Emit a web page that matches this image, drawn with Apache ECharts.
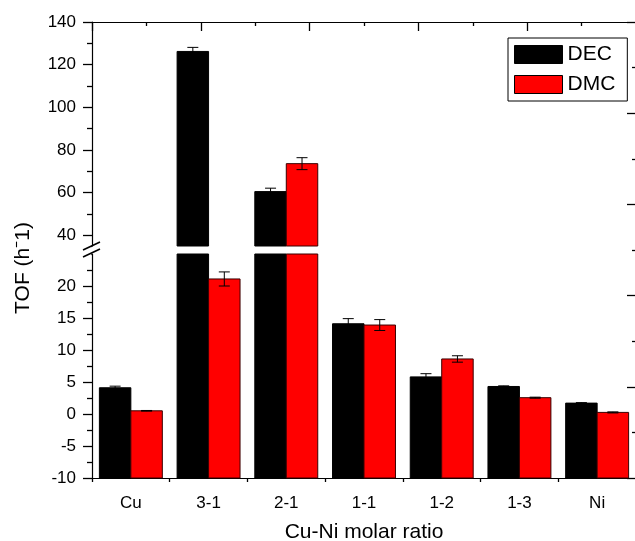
<!DOCTYPE html>
<html>
<head>
<meta charset="utf-8">
<script src="https://cdn.jsdelivr.net/npm/echarts@6.0.0/dist/echarts.min.js"></script>
<style>
  html, body { margin: 0; padding: 0; background: #fff; }
  #chart { width: 635px; height: 541px; }
</style>
</head>
<body>
<div id="chart"></div>
<script>
// Cu-Ni catalysts, TOF per product
const categories = ['Cu', '3-1', '2-1', '1-1', '1-2', '1-3', 'Ni'];
const decValues = [4.1, 126.2, 60.5, 14.1, 5.8, 4.3, 1.7];
const decErrors = [0.25, 1.9, 1.6, 0.8, 0.5, 0.1, 0.08];
const dmcValues = [0.5, 21.1, 73.6, 13.9, 8.6, 2.55, 0.25];
const dmcErrors = [0.05, 1.1, 2.8, 0.85, 0.5, 0.08, 0.08];

// broken y axis: lower segment -10..25, upper segment 35..140
const lowerRange = [-10, 25];
const upperRange = [35, 140];

const FONT = '"Liberation Sans", Arial, sans-serif';

const chart = echarts.init(document.getElementById('chart'));

const makeRender = (side, lo, hi, fill) => (params, api) => {
  const cat = api.value(0);
  const val = api.value(1);
  const err = api.value(2);
  if (val <= lo) return null;
  const band = api.size([1, 0])[0];
  const w = band * 0.405;
  const cx = api.coord([cat, lo])[0];
  const x0 = side < 0 ? cx - w : cx;
  const top = api.coord([cat, Math.min(val, hi)])[1];
  const base = api.coord([cat, lo])[1];
  const children = [{
    type: 'rect',
    shape: { x: x0, y: top, width: w, height: base - top },
    style: { fill: fill, stroke: side < 0 ? '#000' : '#3a0000', lineWidth: 1 }
  }];
  if (val <= hi) {
    const mx = x0 + w / 2;
    const yHi = api.coord([cat, val + err])[1];
    const yLo = api.coord([cat, val - err])[1];
    const lineStyle = { stroke: '#000', lineWidth: 1 };
    children.push(
      { type: 'line', shape: { x1: mx, y1: yHi, x2: mx, y2: yLo }, style: lineStyle },
      { type: 'line', shape: { x1: mx - 5.5, y1: yHi, x2: mx + 5.5, y2: yHi }, style: lineStyle },
      { type: 'line', shape: { x1: mx - 5.5, y1: yLo, x2: mx + 5.5, y2: yLo }, style: lineStyle }
    );
  }
  return { type: 'group', children: children };
};

const toData = (vals, errs) => vals.map((v, i) => [i, v, errs[i]]);

const axisLineStyle = { color: '#000', width: 1.2 };
const tickStyle = { color: '#000', width: 1.3 };
const labelStyle = { color: '#000', fontSize: 17, fontFamily: FONT };

const option = {
  animation: false,
  backgroundColor: '#fff',
  grid: [
    { left: 92, top: 22, width: 544, height: 224, outerBoundsMode: 'none' },
    { left: 92, top: 254, width: 544, height: 224, outerBoundsMode: 'none' },
    { left: 92, top: 22, width: 544, height: 456, outerBoundsMode: 'none' }
  ],
  legend: {
    orient: 'vertical',
    left: 508,
    top: 38,
    padding: [6, 12, 6, 6],
    itemGap: 9,
    itemWidth: 48,
    itemHeight: 18,
    icon: 'rect',
    borderColor: '#000',
    borderWidth: 1,
    itemStyle: { borderColor: '#000', borderWidth: 1 },
    textStyle: { color: '#000', fontSize: 21, fontFamily: FONT },
    data: ['DEC', 'DMC']
  },
  xAxis: [
    { type: 'category', gridIndex: 0, data: categories, show: false },
    {
      type: 'category', gridIndex: 1, data: categories, position: 'bottom',
      axisLine: { onZero: false, lineStyle: axisLineStyle },
      axisTick: { alignWithLabel: true, length: 8, lineStyle: tickStyle },
      axisLabel: Object.assign({ margin: 17 }, labelStyle),
      name: 'Cu-Ni molar ratio',
      nameLocation: 'middle',
      nameGap: 44,
      nameTextStyle: { color: '#000', fontSize: 21, fontFamily: FONT }
    },
    {
      type: 'value', gridIndex: 2, position: 'bottom', min: 0, max: 7, interval: 1,
      axisLine: { show: false, onZero: false },
      axisTick: { length: 4, lineStyle: tickStyle },
      axisLabel: { show: false },
      splitLine: { show: false }
    },
    {
      type: 'value', gridIndex: 2, position: 'top', min: 0, max: 10, interval: 2,
      axisLine: { onZero: false, lineStyle: axisLineStyle },
      axisTick: { inside: true, length: 9, lineStyle: tickStyle },
      minorTick: { show: true, splitNumber: 2, length: 4, lineStyle: tickStyle },
      axisLabel: { show: false },
      splitLine: { show: false }
    }
  ],
  yAxis: [
    {
      type: 'value', gridIndex: 0, position: 'left',
      min: upperRange[0], max: upperRange[1], splitNumber: 5,
      axisLine: { show: true, onZero: false, lineStyle: axisLineStyle },
      axisTick: { show: true, length: 9, lineStyle: tickStyle },
      minorTick: { show: true, splitNumber: 2, length: 5, lineStyle: tickStyle },
      axisLabel: Object.assign({ margin: 16, showMinLabel: false }, labelStyle),
      splitLine: { show: false }
    },
    {
      type: 'value', gridIndex: 1, position: 'left',
      min: lowerRange[0], max: lowerRange[1], interval: 5,
      axisLine: { show: true, onZero: false, lineStyle: axisLineStyle },
      axisTick: { show: true, length: 9, lineStyle: tickStyle },
      minorTick: { show: true, splitNumber: 2, length: 5, lineStyle: tickStyle },
      axisLabel: Object.assign({ margin: 16, showMaxLabel: false }, labelStyle),
      splitLine: { show: false }
    },
    {
      type: 'value', gridIndex: 2, position: 'right', min: 0, max: 10, interval: 2,
      axisLine: { show: false, onZero: false },
      axisTick: { show: true, inside: true, length: 9, lineStyle: tickStyle },
      minorTick: { show: true, splitNumber: 2, length: 4, lineStyle: tickStyle },
      axisLabel: { show: false },
      splitLine: { show: false }
    }
  ],
  series: [
    {
      name: 'DEC', type: 'custom', xAxisIndex: 0, yAxisIndex: 0,
      itemStyle: { color: '#000' },
      renderItem: makeRender(-1, upperRange[0], upperRange[1], '#000'),
      data: toData(decValues, decErrors)
    },
    {
      name: 'DMC', type: 'custom', xAxisIndex: 0, yAxisIndex: 0,
      itemStyle: { color: '#ff0000' },
      renderItem: makeRender(1, upperRange[0], upperRange[1], '#ff0000'),
      data: toData(dmcValues, dmcErrors)
    },
    {
      name: 'DEC', type: 'custom', xAxisIndex: 1, yAxisIndex: 1,
      itemStyle: { color: '#000' },
      renderItem: makeRender(-1, lowerRange[0], lowerRange[1], '#000'),
      data: toData(decValues, decErrors)
    },
    {
      name: 'DMC', type: 'custom', xAxisIndex: 1, yAxisIndex: 1,
      itemStyle: { color: '#ff0000' },
      renderItem: makeRender(1, lowerRange[0], lowerRange[1], '#ff0000'),
      data: toData(dmcValues, dmcErrors)
    }
  ],
  graphic: [
    {
      type: 'text', x: 23, y: 268, rotation: Math.PI / 2, z: 100,
      style: {
        text: 'TOF (h\u207B1)', fill: '#000',
        font: '21px ' + FONT, align: 'center', verticalAlign: 'middle'
      }
    },
    // hide the segment end ticks at the break, then draw the break marks
    { type: 'rect', z: 100, shape: { x: 78, y: 243, width: 13.3, height: 14 }, style: { fill: '#fff' } },
    { type: 'line', z: 101, shape: { x1: 83, y1: 250, x2: 100, y2: 242 }, style: { stroke: '#000', lineWidth: 1.5 } },
    { type: 'line', z: 101, shape: { x1: 83, y1: 257, x2: 100, y2: 249 }, style: { stroke: '#000', lineWidth: 1.5 } }
  ]
};

chart.setOption(option);
</script>
</body>
</html>
